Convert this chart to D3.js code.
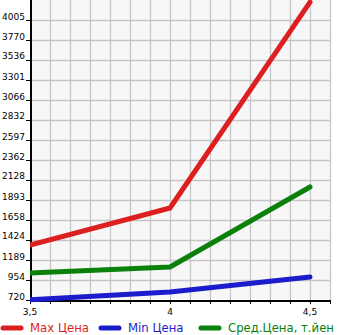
<!DOCTYPE html>
<html>
<head>
<meta charset="utf-8">
<script src="https://d3js.org/d3.v7.min.js"></script>
<style>
  body { margin: 0; background: #fff; }
</style>
</head>
<body>
<svg id="chart" width="345" height="335"></svg>
<script>
// values
var xValues = [3.5, 4, 4.5]
var xLabels = ["3,5", "4", "4,5"]
var maxPrice = [1365, 1799, 4215]
var minPrice = [722, 814, 990]
var avgPrice = [1037, 1107, 2046]
var yTicks = [720, 954, 1189, 1424, 1658, 1893, 2128, 2362, 2597, 2832, 3066, 3301, 3536, 3770, 4005]
var seriesNames = ["Max Цена", "Min Цена", "Сред.Цена, т.йен"]
var seriesColors = ["#dc1f1f", "#1c1ccc", "#0b800b"]

// plot box (note: "top" is reserved on window, so use other names)
var plotL = 30, plotR = 330, plotT = 0, plotB = 300

var svg = d3.select("#chart")

var x = d3.scaleLinear().domain([3.5, 4.5]).range([plotL, plotL + 280])
var y = d3.scaleLinear().domain([720, 720 + 15 * (4005 - 720) / 14]).range([plotB, plotT])

// plot background
svg.append("rect")
  .attr("x", plotL).attr("y", plotT)
  .attr("width", plotR - plotL).attr("height", plotB - plotT)
  .attr("fill", "#f7f7f7")

// grid lines, every 20px
var xGrid = d3.range(1, 16).map(function (i) { return 3.5 + i / 14 })
svg.append("g").selectAll("line").data(xGrid).enter().append("line")
  .attr("x1", function (d) { return Math.round(x(d)) + 0.5 })
  .attr("x2", function (d) { return Math.round(x(d)) + 0.5 })
  .attr("y1", plotT).attr("y2", plotB)
  .attr("stroke", "#c6c6c6").attr("stroke-width", 1.3)

svg.append("g").selectAll("line").data(yTicks.slice(1)).enter().append("line")
  .attr("x1", plotL).attr("x2", plotR)
  .attr("y1", function (d) { return Math.round(y(d)) + 0.5 })
  .attr("y2", function (d) { return Math.round(y(d)) + 0.5 })
  .attr("stroke", "#c6c6c6").attr("stroke-width", 1.3)

// y axis
var yAxis = svg.append("g")
yAxis.selectAll("line").data(yTicks).enter().append("line")
  .attr("x1", 26).attr("x2", plotL)
  .attr("y1", function (d) { return Math.round(y(d)) + 0.5 })
  .attr("y2", function (d) { return Math.round(y(d)) + 0.5 })
  .attr("stroke", "#000")
yAxis.selectAll("text").data(yTicks).enter().append("text")
  .attr("x", 25)
  .attr("y", function (d) { return y(d) - 0.5 })
  .attr("text-anchor", "end")
  .attr("font-family", "DejaVu Sans")
  .attr("font-size", 9)
  .attr("fill", "#000")
  .text(function (d) { return d })

// x axis
var xTickVals = [3.5].concat(xGrid)
svg.append("g").selectAll("line").data(xTickVals).enter().append("line")
  .attr("x1", function (d) { return Math.round(x(d)) + 0.5 })
  .attr("x2", function (d) { return Math.round(x(d)) + 0.5 })
  .attr("y1", plotB).attr("y2", plotB + 4)
  .attr("stroke", "#000")
svg.append("g").selectAll("text").data(xValues).enter().append("text")
  .attr("x", function (d) { return x(d) })
  .attr("y", 314.5)
  .attr("text-anchor", "middle")
  .attr("font-family", "DejaVu Sans")
  .attr("font-size", 9)
  .attr("fill", "#000")
  .text(function (d, i) { return xLabels[i] })

svg.append("line")
  .attr("x1", plotL + 1).attr("x2", plotL + 1)
  .attr("y1", plotT).attr("y2", plotB + 1)
  .attr("stroke", "#000").attr("stroke-width", 2)
svg.append("line")
  .attr("x1", plotL).attr("x2", plotR)
  .attr("y1", plotB + 1).attr("y2", plotB + 1)
  .attr("stroke", "#000").attr("stroke-width", 2)

// series lines
var line = d3.line()
  .x(function (d, i) { return x(xValues[i]) })
  .y(function (d) { return y(d) })

var clip = svg.append("clipPath").attr("id", "plotclip")
clip.append("rect").attr("x", plotL).attr("y", plotT).attr("width", plotR - plotL + 10).attr("height", plotB - plotT + 5)

var g = svg.append("g").attr("clip-path", "url(#plotclip)")
;[maxPrice, minPrice, avgPrice].forEach(function (s, i) {
  g.append("path")
    .datum(s)
    .attr("d", line)
    .attr("fill", "none")
    .attr("stroke", seriesColors[i])
    .attr("stroke-width", 5)
    .attr("stroke-linecap", "round")
    .attr("stroke-linejoin", "round")
})

// legend
var legendX = [3, 101, 201]
var legend = svg.append("g").selectAll("g").data(seriesNames).enter().append("g")
  .attr("transform", function (d, i) { return "translate(" + legendX[i] + ",328)" })
legend.append("line")
  .attr("x1", 0).attr("x2", 18)
  .attr("y1", 0).attr("y2", 0)
  .attr("stroke", function (d, i) { return seriesColors[i] })
  .attr("stroke-width", 5)
  .attr("stroke-linecap", "round")
legend.append("text")
  .attr("x", 27)
  .attr("y", 4)
  .attr("font-family", "DejaVu Sans")
  .attr("font-size", 11.7)
  .attr("fill", function (d, i) { return seriesColors[i] })
  .text(function (d) { return d })
</script>
</body>
</html>
